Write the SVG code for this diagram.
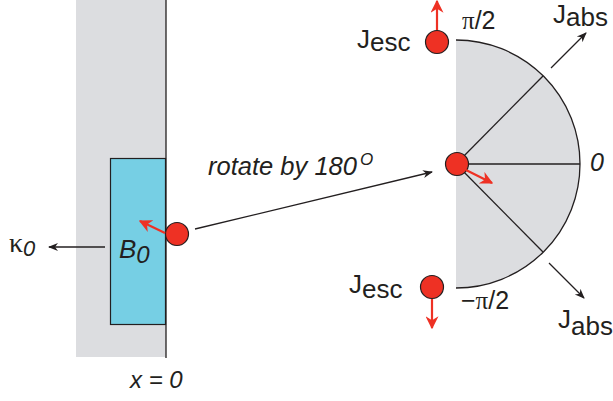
<svg xmlns="http://www.w3.org/2000/svg" width="613" height="401" viewBox="0 0 613 401">
<style>
.t{font-family:"Liberation Sans",Arial,sans-serif;fill:#231f20}
.s{font-family:"Liberation Serif","Times New Roman",serif;fill:#231f20}
.i{font-style:italic}
.ln{stroke:#231f20;stroke-width:1.3;fill:none}
.red{stroke:#ee3124;stroke-width:2.2;fill:none}
.dot{fill:#ee3124;stroke:#231f20;stroke-width:1.2}
</style>
<defs>
<marker id="ab" viewBox="0 0 10 10" refX="9" refY="5" markerWidth="10" markerHeight="10" markerUnits="userSpaceOnUse" orient="auto"><path d="M0,1 L10,5 L0,9 L3,5 z" fill="#231f20"/></marker>
<marker id="ar" viewBox="0 0 10 10" refX="9" refY="5" markerWidth="13" markerHeight="13" markerUnits="userSpaceOnUse" orient="auto"><path d="M0,0 L10,5 L0,10 L3,5 z" fill="#ee3124"/></marker>
</defs>
<g id="wall">
<rect x="76" y="0" width="90" height="357" fill="#dcdde0"/>
<rect x="110.5" y="158.5" width="55" height="166" fill="#76cfe4" stroke="#231f20" stroke-width="1.2"/>
<line x1="166" y1="0" x2="166" y2="358" class="ln"/>
<text x="119" y="258" class="t i" font-size="26">B<tspan font-size="24" dy="5">0</tspan></text>
<text x="130" y="388" class="t i" font-size="24">x = 0</text>
</g>
<g id="kappa">
<text x="9" y="252" class="s" font-size="28">κ<tspan class="t i" font-size="22" dy="4">0</tspan></text>
</g>
<g id="particle-left">
<circle cx="177" cy="234" r="11.5" class="dot"/>
</g>
<g id="disc">
<path d="M456,40 A124,124 0 0 1 456,288 Z" fill="#dcdde0"/>
<path d="M456,40 A124,124 0 0 1 456,288" class="ln"/>
<line x1="456" y1="164" x2="543" y2="76" class="ln"/>
<line x1="456" y1="164" x2="580" y2="164" class="ln"/>
<line x1="456" y1="164" x2="543" y2="252" class="ln"/>
<text x="462" y="29" class="t" font-size="25"><tspan class="s">π</tspan>/2</text>
<text x="461" y="309" class="t" font-size="25">−<tspan class="s">π</tspan>/2</text>
<text x="590" y="171" class="t i" font-size="25">0</text>
</g>
<g id="particle-center">
<circle cx="457" cy="164" r="11.5" class="dot"/>
</g>
<g id="jesc-top">
<circle cx="437" cy="42" r="11.5" class="dot"/>
<text x="357" y="48" class="t" font-size="26">J<tspan dy="3">esc</tspan></text>
</g>
<g id="jesc-bottom">
<circle cx="432" cy="287" r="11.5" class="dot"/>
<text x="349" y="293" class="t" font-size="26">J<tspan dy="5">esc</tspan></text>
</g>
<g id="jabs-top">
<text x="553" y="23" class="t" font-size="26">J<tspan dy="3">abs</tspan></text>
</g>
<g id="jabs-bottom">
<text x="558" y="328" class="t" font-size="26">J<tspan dy="7">abs</tspan></text>
</g>
<g id="label-rotate">
<text x="208" y="175" class="t i" font-size="26" textLength="149" lengthAdjust="spacingAndGlyphs">rotate by 180</text>
<text x="360" y="165" class="t i" font-size="17">O</text>
</g>
<g id="connectors">
<line x1="105" y1="247" x2="49" y2="247" class="ln" marker-end="url(#ab)"/>
<line x1="195" y1="229" x2="432" y2="172" class="ln" marker-end="url(#ab)"/>
<line x1="551" y1="68" x2="586" y2="33" class="ln" marker-end="url(#ab)"/>
<line x1="549" y1="263" x2="584" y2="298" class="ln" marker-end="url(#ab)"/>
<line x1="165" y1="233" x2="140" y2="221" class="red" marker-end="url(#ar)"/>
<line x1="466" y1="170" x2="492" y2="183" class="red" marker-end="url(#ar)"/>
<line x1="437" y1="30" x2="437" y2="1" class="red" marker-end="url(#ar)"/>
<line x1="432" y1="299" x2="432" y2="328" class="red" marker-end="url(#ar)"/>
</g>
</svg>
